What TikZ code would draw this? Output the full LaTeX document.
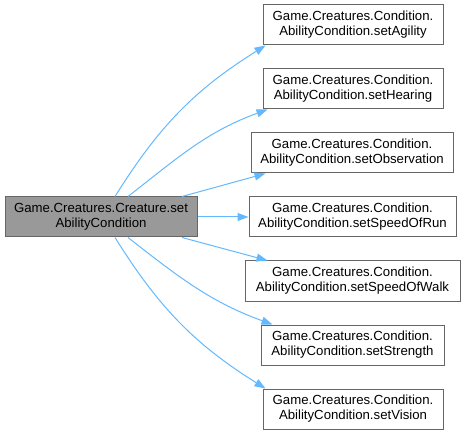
\documentclass[tikz,border=0pt]{standalone}
\usepackage{fontspec}
\setmainfont{Liberation Sans}
\usetikzlibrary{arrows.meta}
\definecolor{edgeblue}{HTML}{63B8FF}
\definecolor{boxgray}{HTML}{666666}
\definecolor{srcfill}{HTML}{999999}
\begin{document}
\begin{tikzpicture}
  [x=1pt, y=1pt,
   every node/.style={draw=boxgray, fill=white, rectangle, align=center, line width=1pt,
                      inner sep=0pt, minimum height=40pt, font=\fontsize{13.2}{15}\selectfont},
   src/.style={fill=srcfill},
   call/.style={draw=edgeblue, line width=1pt, -{Triangle[length=11pt,width=8pt]}}]
  \useasboundingbox (0,0) rectangle (465,-435);
  \node [src, minimum width=192pt] (setAbility) at (101,-217) {Game.Creatures.Creature.set\\AbilityCondition};
  \node [minimum width=180pt] (setAgility) at (353,-25) {Game.Creatures.Condition.\\AbilityCondition.setAgility};
  \node [minimum width=180pt] (setHearing) at (353,-89) {Game.Creatures.Condition.\\AbilityCondition.setHearing};
  \node [minimum width=202pt] (setObservation) at (352,-153) {Game.Creatures.Condition.\\AbilityCondition.setObservation};
  \node [minimum width=207pt] (setSpeedOfRun) at (352.5,-217) {Game.Creatures.Condition.\\AbilityCondition.setSpeedOfRun};
  \node [minimum width=215pt] (setSpeedOfWalk) at (352.5,-281) {Game.Creatures.Condition.\\AbilityCondition.setSpeedOfWalk};
  \node [minimum width=183pt] (setStrength) at (352.5,-345) {Game.Creatures.Condition.\\AbilityCondition.setStrength};
  \node [minimum width=180pt] (setVision) at (353,-409) {Game.Creatures.Condition.\\AbilityCondition.setVision};

  \draw [call] ([xshift=14pt]setAbility.north) to[out=58, in=212] ([xshift=3pt]setAgility.south west);
  \draw [call] ([xshift=27pt]setAbility.north) to[out=38, in=200] ([xshift=5pt]setHearing.south west);
  \draw [call] ([xshift=81pt]setAbility.north) -- ([xshift=15pt]setObservation.south west);
  \draw [call] (setAbility.east) -- (setSpeedOfRun.west);
  \draw [call] ([xshift=81pt]setAbility.south) -- ([xshift=23pt]setSpeedOfWalk.north west);
  \draw [call] ([xshift=27pt]setAbility.south) to[out=-38, in=160] ([xshift=12pt]setStrength.north west);
  \draw [call] ([xshift=14pt]setAbility.south) to[out=-58, in=148] ([xshift=3pt]setVision.north west);
\end{tikzpicture}
\end{document}
